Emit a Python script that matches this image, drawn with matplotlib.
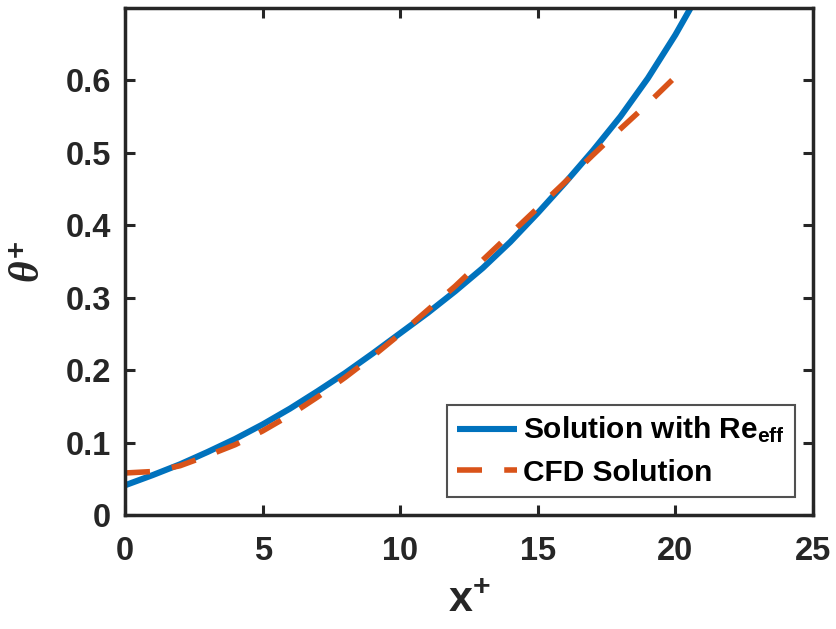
import matplotlib
matplotlib.use("Agg")
import matplotlib.pyplot as plt

# Data
x_model = [0, 1, 2, 3, 4, 5, 6, 7, 8, 9, 10, 11, 12, 13, 14, 15, 16, 17, 18, 19, 20, 21]
theta_model = [0.041, 0.055, 0.070, 0.087, 0.105, 0.125, 0.147, 0.171, 0.196, 0.223, 0.251,
               0.279, 0.309, 0.341, 0.377, 0.417, 0.459, 0.503, 0.550, 0.603, 0.663, 0.730]

x_cfd = [0, 1, 2, 3, 4, 5, 6, 7, 8, 9, 10, 11, 12, 13, 14, 15, 16, 17, 18, 19, 20]
theta_cfd = [0.058, 0.060, 0.068, 0.082, 0.097, 0.116, 0.138, 0.163, 0.190, 0.219, 0.250,
             0.283, 0.316, 0.352, 0.388, 0.424, 0.460, 0.497, 0.533, 0.568, 0.605]

xticks = [0, 5, 10, 15, 20, 25]
yticks = [0, 0.1, 0.2, 0.3, 0.4, 0.5, 0.6]
ytick_labels = ["0", "0.1", "0.2", "0.3", "0.4", "0.5", "0.6"]

legend_labels = [r"Solution with Re$_{\mathbf{eff}}$", "CFD Solution"]

plt.rcParams["font.family"] = ["Liberation Sans", "DejaVu Sans"]
plt.rcParams["font.weight"] = "bold"
plt.rcParams["mathtext.fontset"] = "custom"
plt.rcParams["mathtext.rm"] = "Liberation Sans:bold"
plt.rcParams["mathtext.bf"] = "Liberation Sans:bold"
plt.rcParams["mathtext.it"] = "Liberation Serif:italic"

axcol = "#262626"
fig = plt.figure(figsize=(8.37, 6.29), dpi=100)
ax = fig.add_axes([125 / 837, 1 - 515 / 629, (813 - 125) / 837, (515 - 8) / 629])

ax.plot(x_model, theta_model, color="#0072BD", lw=4.4, label=legend_labels[0],
        solid_capstyle="butt", solid_joinstyle="round")
ax.plot(x_cfd, theta_cfd, color="#D95319", lw=4.0, dashes=(4.5, 4.0),
        label=legend_labels[1], dash_capstyle="butt")

ax.set_xlim(0, 25)
ax.set_ylim(0, 0.7)
ax.set_xticks(xticks)
ax.set_xticklabels([str(t) for t in xticks])
ax.set_yticks(yticks)
ax.set_yticklabels(ytick_labels)

for s in ax.spines.values():
    s.set_linewidth(2.5)
    s.set_color(axcol)

ax.tick_params(axis="both", direction="in", length=7, width=2.2, colors=axcol,
               labelsize=23.5, top=True, right=True, labelcolor=axcol)
ax.tick_params(axis="x", pad=15)
ax.tick_params(axis="y", pad=10)
for lab in ax.get_xticklabels() + ax.get_yticklabels():
    lab.set_fontweight("bold")

ax.set_xlabel(r"$\mathbf{x^{+}}$", fontsize=31, color=axcol, labelpad=10)
ax.set_ylabel(r"$\theta^{\mathbf{+}}$", fontsize=30, color=axcol, labelpad=12)

leg = ax.legend(loc="lower right", frameon=True, fancybox=False,
                handlelength=2.0, handletextpad=0.2, borderpad=0.35,
                labelspacing=0.45, borderaxespad=0.6, prop={"weight": "bold", "size": 21.5})
leg.get_frame().set_edgecolor(axcol)
leg.get_frame().set_linewidth(1.5)
for t in leg.get_texts():
    t.set_color("black")

fig.savefig("out.png", dpi=100, facecolor="white")
